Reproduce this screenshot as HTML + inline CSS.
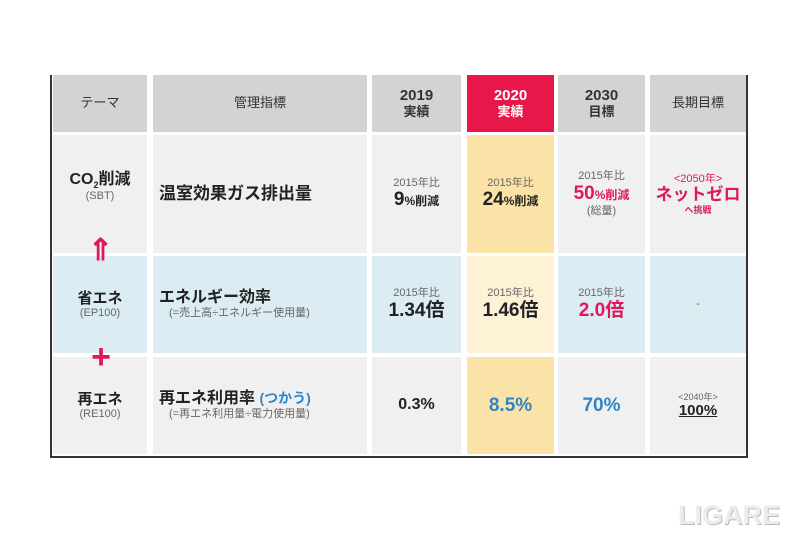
<!DOCTYPE html>
<html><head><meta charset="utf-8"><style>
body{margin:0;width:800px;height:533px;background:#fff;position:relative;overflow:hidden;font-family:"Liberation Sans","Noto Sans CJK JP",sans-serif;color:#222}
.c{position:absolute;display:flex;flex-direction:column;justify-content:center;align-items:center;text-align:center;line-height:1.15}
.h{background:#d3d3d3;font-size:13px;font-weight:bold;color:#333}
.g{background:#f0f0f0}.b{background:#dbecf2}.y{background:#fbe2a6}.ly{background:#fdf1d6}
.s{font-size:11px;color:#666}
.big{font-size:19px;font-weight:bold;color:#222}
.red{color:#e0185a}.blue{color:#2e86c8}
.l{align-items:flex-start;padding-left:6px;box-sizing:border-box}
</style></head><body>
<div style="position:absolute;left:50px;top:75px;width:2px;height:383px;background:#333"></div>
<div style="position:absolute;left:746px;top:75px;width:2px;height:383px;background:#333"></div>
<div style="position:absolute;left:50px;top:456px;width:698px;height:2px;background:#333"></div>

<div class="c h" style="left:53px;top:75px;width:94px;height:57px;font-weight:normal">テーマ</div>
<div class="c h" style="left:153px;top:75px;width:214px;height:57px;font-weight:normal">管理指標</div>
<div class="c h" style="left:372px;top:75px;width:89px;height:57px;font-size:15px">2019<br><span style="font-size:13px">実績</span></div>
<div class="c h" style="left:467px;top:75px;width:87px;height:57px;font-size:15px;background:#e8174a;color:#fff">2020<br><span style="font-size:13px">実績</span></div>
<div class="c h" style="left:558px;top:75px;width:87px;height:57px;font-size:15px">2030<br><span style="font-size:13px">目標</span></div>
<div class="c h" style="left:650px;top:75px;width:96px;height:57px;font-weight:normal">長期目標</div>

<div class="c g" style="left:53px;top:135px;width:94px;height:118px"><div style="font-size:16px;font-weight:bold;margin-top:-14px">CO<sub style="font-size:9px">2</sub>削減</div><div class="s">(SBT)</div></div>
<div class="c g l" style="left:153px;top:135px;width:214px;height:118px"><div style="font-size:17px;font-weight:bold">温室効果ガス排出量</div></div>
<div class="c g" style="left:372px;top:135px;width:89px;height:118px"><div class="s">2015年比</div><div class="big">9<span style="font-size:12px">%削減</span></div></div>
<div class="c y" style="left:467px;top:135px;width:87px;height:118px"><div class="s">2015年比</div><div class="big">24<span style="font-size:12px">%削減</span></div></div>
<div class="c g" style="left:558px;top:135px;width:87px;height:118px"><div class="s">2015年比</div><div class="big red">50<span style="font-size:12px">%削減</span></div><div class="s">(総量)</div></div>
<div class="c g" style="left:650px;top:135px;width:96px;height:118px"><div class="s red">&lt;2050年&gt;</div><div class="big red" style="font-size:17px">ネットゼロ</div><div class="red" style="font-size:9px;font-weight:bold">へ挑戦</div></div>

<div class="c b" style="left:53px;top:256px;width:94px;height:97px"><div style="font-size:15px;font-weight:bold">省エネ</div><div class="s">(EP100)</div></div>
<div class="c b l" style="left:153px;top:256px;width:214px;height:97px"><div style="font-size:16px;font-weight:bold">エネルギー効率</div><div class="s" style="padding-left:10px">(=売上高÷エネルギー使用量)</div></div>
<div class="c b" style="left:372px;top:256px;width:89px;height:97px"><div class="s">2015年比</div><div class="big">1.34倍</div></div>
<div class="c ly" style="left:467px;top:256px;width:87px;height:97px"><div class="s">2015年比</div><div class="big">1.46倍</div></div>
<div class="c b" style="left:558px;top:256px;width:87px;height:97px"><div class="s">2015年比</div><div class="big red">2.0倍</div></div>
<div class="c b" style="left:650px;top:256px;width:96px;height:97px"><div class="s">-</div></div>

<div class="c g" style="left:53px;top:357px;width:94px;height:97px"><div style="font-size:15px;font-weight:bold">再エネ</div><div class="s">(RE100)</div></div>
<div class="c g l" style="left:153px;top:357px;width:214px;height:97px"><div style="font-size:16px;font-weight:bold">再エネ利用率 <span class="blue" style="font-size:14px">(つかう)</span></div><div class="s" style="padding-left:10px">(=再エネ利用量÷電力使用量)</div></div>
<div class="c g" style="left:372px;top:357px;width:89px;height:97px"><div class="big" style="font-size:16px">0.3%</div></div>
<div class="c y" style="left:467px;top:357px;width:87px;height:97px"><div class="big blue">8.5%</div></div>
<div class="c g" style="left:558px;top:357px;width:87px;height:97px"><div class="big blue">70%</div></div>
<div class="c g" style="left:650px;top:357px;width:96px;height:97px"><div class="s" style="font-size:9px">&lt;2040年&gt;</div><div style="font-size:15px;font-weight:bold;text-decoration:underline">100%</div></div>

<div style="position:absolute;left:88px;top:236px;width:24px;font-size:30px;line-height:30px;color:#e0185a;text-align:center;font-weight:bold">⇑</div>
<div style="position:absolute;left:86px;top:340px;width:30px;font-size:34px;line-height:34px;color:#e0185a;text-align:center;font-weight:bold">+</div>

<div style="position:absolute;left:678px;top:500px;font-size:27px;font-weight:bold;color:#ececec;letter-spacing:0px;text-shadow:1px 1px 0 #bbb">LIGARE</div>
</body></html>
